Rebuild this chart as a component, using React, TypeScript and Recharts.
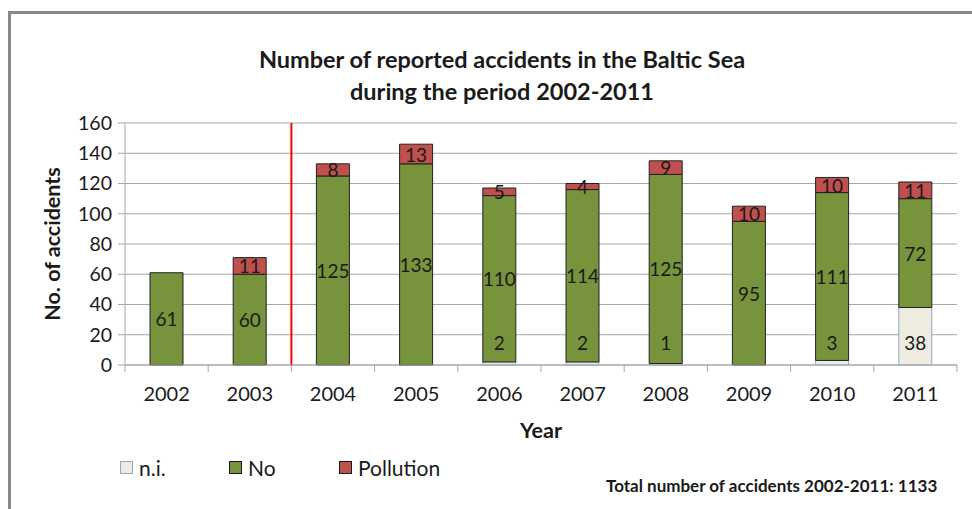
import React from 'react';
import { BarChart, Bar, XAxis, YAxis, CartesianGrid, ReferenceLine, LabelList } from 'recharts';

const years = ['2002', '2003', '2004', '2005', '2006', '2007', '2008', '2009', '2010', '2011'];
const notIdentified = [0, 0, 0, 0, 2, 2, 1, 0, 3, 38];
const noPollution = [61, 60, 125, 133, 110, 114, 125, 95, 111, 72];
const pollution = [0, 11, 8, 13, 5, 4, 9, 10, 10, 11];
const yTicks = [0, 20, 40, 60, 80, 100, 120, 140, 160];

const data = years.map((year, i) => ({
  year,
  ni: notIdentified[i],
  no: noPollution[i],
  pollution: pollution[i],
}));

const FONT = 'Lato, "Liberation Sans", sans-serif';
const GRID = '#a6a6a6';
const TEXT = '#1a1a1a';

const centerLabel = (props: any) => {
  const { x, y, width, height, value } = props;
  if (!value) return null;
  return (
    <text x={x + width / 2} y={y + height / 2} textAnchor="middle" dominantBaseline="central"
      fontSize={19} fontFamily={FONT} fill={TEXT}>
      {value}
    </text>
  );
};

// n.i. labels sit at the bar base, like Excel's "inside base"
const baseLabel = (props: any) => {
  const { x, y, width, height, value } = props;
  if (!value) return null;
  return (
    <text x={x + width / 2} y={y + height - 23} textAnchor="middle" dominantBaseline="central"
      fontSize={19} fontFamily={FONT} fill={TEXT}>
      {value}
    </text>
  );
};

const XTick = (props: any) => {
  const { x, y, payload, index } = props;
  const half = payload && payload.offset ? payload.offset : 41.6;
  return (
    <g>
      <line x1={x - half} x2={x - half} y1={y} y2={y + 7} stroke={GRID} />
      {index === years.length - 1 && <line x1={x + half} x2={x + half} y1={y} y2={y + 7} stroke={GRID} />}
      <text x={x} y={y + 28} textAnchor="middle" dominantBaseline="central" fontSize={20}
        fontFamily={FONT} fill={TEXT}>
        {payload.value}
      </text>
    </g>
  );
};

const legendItems = [
  { name: 'n.i.', fill: '#eeece1', stroke: '#8ea9c8', left: 120 },
  { name: 'No', fill: '#77933c', stroke: '#1a1a1a', left: 229 },
  { name: 'Pollution', fill: '#c0504d', stroke: '#1a1a1a', left: 339 },
];

export default function App() {
  return (
    <div style={{ position: 'absolute', left: 0, top: 0, width: 972, height: 509, background: '#fff', overflow: 'hidden' }}>
      <div style={{ position: 'absolute', left: 8, top: 11, right: 0, bottom: 0, borderLeft: '3px solid #888', borderTop: '3px solid #888' }} />
      <div style={{ position: 'absolute', left: 202, width: 600, top: 43, textAlign: 'center', fontFamily: FONT, fontWeight: 700, fontSize: 23.5, lineHeight: '32px', color: TEXT }}>
        Number of reported accidents in the Baltic Sea<br />during the period 2002-2011
      </div>
      <div style={{ position: 'absolute', left: 52, top: 244, transform: 'translate(-50%, -50%) rotate(-90deg)', whiteSpace: 'nowrap', fontFamily: FONT, fontWeight: 700, fontSize: 21.5, color: TEXT }}>
        No. of accidents
      </div>
      <div style={{ position: 'absolute', left: 541, top: 430, transform: 'translate(-50%, -50%)', fontFamily: FONT, fontWeight: 700, fontSize: 21.5, color: TEXT }}>
        Year
      </div>
      <div style={{ position: 'absolute', left: 606, top: 475, whiteSpace: 'nowrap', fontFamily: FONT, fontWeight: 700, fontSize: 17, color: TEXT }}>
        Total number of accidents 2002-2011: 1133
      </div>
      <div style={{ position: 'absolute', left: 0, top: 454, height: 26, width: 600, fontFamily: FONT, fontSize: 21, color: TEXT }}>
        {legendItems.map(item => (
          <div key={item.name} style={{ position: 'absolute', left: item.left, top: 0, display: 'flex', alignItems: 'center', height: 26 }}>
            <span style={{ width: 11, height: 11, background: item.fill, border: `1px solid ${item.stroke}`, marginRight: 6 }} />
            <span>{item.name}</span>
          </div>
        ))}
      </div>
      <div style={{ position: 'absolute', left: 0, top: 0 }}>
        <BarChart width={972} height={509} data={data} margin={{ top: 123, right: 15, bottom: 114, left: 65 }} barSize={33}>
          <CartesianGrid vertical={false} stroke={GRID} />
          <XAxis dataKey="year" height={30} stroke={GRID} tickLine={false} tickSize={0} tickMargin={0} tick={<XTick />} interval={0} />
          <YAxis width={60} domain={[0, 160]} ticks={yTicks} interval={0} stroke={GRID} tickSize={7} tickMargin={6}
            tick={{ fontSize: 19.5, fontFamily: FONT, fill: TEXT }} />
          <Bar dataKey="ni" name="n.i." stackId="a" fill="#eeece1" stroke="#8ea9c8" isAnimationActive={false}>
            <LabelList dataKey="ni" content={baseLabel} />
          </Bar>
          <Bar dataKey="no" name="No" stackId="a" fill="#77933c" stroke="#222" isAnimationActive={false}>
            <LabelList dataKey="no" content={centerLabel} />
          </Bar>
          <Bar dataKey="pollution" name="Pollution" stackId="a" fill="#c0504d" stroke="#222" isAnimationActive={false}>
            <LabelList dataKey="pollution" content={centerLabel} />
          </Bar>
          <ReferenceLine x="2003" position="end" stroke="#ff0000" strokeWidth={2} />
        </BarChart>
      </div>
    </div>
  );
}
